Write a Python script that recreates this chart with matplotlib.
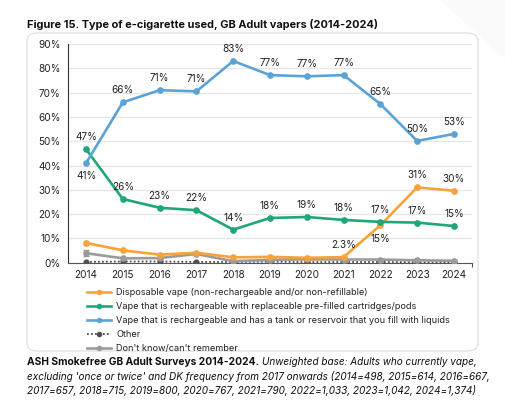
import matplotlib
matplotlib.use("Agg")
import matplotlib.pyplot as plt
from matplotlib.patches import FancyBboxPatch, Polygon
from matplotlib.lines import Line2D

plt.rcParams['font.family'] = ['Inter', 'DejaVu Sans']

years = [2014, 2015, 2016, 2017, 2018, 2019, 2020, 2021, 2022, 2023, 2024]
tank = [41, 66, 71, 70.5, 83, 77.2, 76.7, 77.2, 65.3, 50.1, 53]
tank_labels = ["41%", "66%", "71%", "71%", "83%", "77%", "77%", "77%", "65%", "50%", "53%"]
pods = [46.7, 26.2, 22.6, 21.6, 13.6, 18.4, 18.8, 17.6, 16.8, 16.5, 15.1]
pods_labels = ["47%", "26%", "23%", "22%", "14%", "18%", "19%", "18%", "17%", "17%", "15%"]
disposable = [8.1, 5.1, 3.3, 4.1, 2.2, 2.4, 2.0, 2.3, 15.4, 31, 29.6]
disposable_labels = ["", "", "", "", "", "", "", "2.3%", "15%", "31%", "30%"]
other = [0.3, 0.5, 0.5, 0.3, 0.3, 0.4, 0.3, 0.3, 0.3, 0.2, 0.2]
dontknow = [3.9, 1.8, 1.9, 3.6, 0.6, 1.2, 1.4, 1.3, 1.3, 1.0, 0.8]
dontknow_err = [1.2, 0, 0, 0, 0, 0, 0, 0, 0, 0, 0]
yticks = [0, 10, 20, 30, 40, 50, 60, 70, 80, 90]

series_names = [
    "Disposable vape (non-rechargeable and/or non-refillable)",
    "Vape that is rechargeable with replaceable pre-filled cartridges/pods",
    "Vape that is rechargeable and has a tank or reservoir that you fill with liquids",
    "Other",
    "Don't know/can't remember",
]
c_orange = "#F7A23A"
c_green = "#1FA67A"
c_blue = "#5BA3D5"
c_dark = "#505050"
c_grey = "#9B9B9B"

W, H = 506, 404
fig = plt.figure(figsize=(W / 100, H / 100), dpi=100)
fig.patch.set_facecolor("white")

def px(x, y):
    return (x / W, 1 - y / H)

# faint decoration top-right
deco = Polygon([px(440, 0), px(506, 0), px(506, 60)], closed=True,
               transform=fig.transFigure, facecolor="#fafafa", edgecolor="none", zorder=-2)
fig.patches.append(deco)

# rounded box
x0, y0 = px(27, 351)
x1, y1 = px(478, 33)
box = FancyBboxPatch((x0, y0), x1 - x0, y1 - y0,
                     boxstyle="round,pad=0,rounding_size=0.02",
                     transform=fig.transFigure, facecolor="white",
                     edgecolor="#dcdcdc", linewidth=0.8, zorder=-1)
fig.patches.append(box)

ax = fig.add_axes([67.7 / W, 1 - 262.7 / H, (472.3 - 67.7) / W, (262.7 - 44) / H])
ax.set_facecolor("none")
ax.set_xlim(2013.5, 2024.5)
ax.set_ylim(0, 90)
ax.set_yticks(yticks)
ax.set_yticklabels([f"{t}%" for t in yticks])
ax.set_xticks(years)
ax.set_xticklabels([str(y) for y in years])
ax.set_xticks([2024.5], minor=True)
ax.grid(axis="y", color="#e6e6e6", linewidth=0.9)
ax.set_axisbelow(True)
for s in ["top", "right"]:
    ax.spines[s].set_visible(False)
ax.spines["left"].set_color("#333333")
ax.spines["bottom"].set_color("#555555")
ax.spines["left"].set_linewidth(0.8)
ax.spines["bottom"].set_linewidth(0.8)
ax.tick_params(axis="both", length=0, labelsize=7.2, colors="#222222", pad=5)
ax.tick_params(axis="x", which="minor", length=3, width=0.8, color="#555555")

lw = 1.9
ms = 3.8
l_dk = ax.errorbar(years, dontknow, yerr=dontknow_err, color=c_grey, lw=lw, marker="o",
                   ms=ms, capsize=2, elinewidth=0.8, zorder=3)
l_ot, = ax.plot(years, other, color=c_dark, lw=1.3, ls=(0, (1, 1.2)), marker="o", ms=3.4, zorder=2.5)
l_or, = ax.plot(years, disposable, color=c_orange, lw=lw, marker="o", ms=ms, zorder=4)
l_gr, = ax.plot(years, pods, color=c_green, lw=lw, marker="o", ms=ms, zorder=4)
l_bl, = ax.plot(years, tank, color=c_blue, lw=lw, marker="o", ms=ms, zorder=4)

lab_kw = dict(textcoords="offset points", ha="center", va="center", fontsize=7.2, color="#222222", zorder=6)
off = 8.6
for i, (x, v, t) in enumerate(zip(years, tank, tank_labels)):
    dy = -9.5 if i == 0 else off
    ax.annotate(t, (x, v), xytext=(0, dy), **lab_kw)
for x, v, t in zip(years, pods, pods_labels):
    ax.annotate(t, (x, v), xytext=(0, off), **lab_kw)
for x, v, t in zip(years, disposable, disposable_labels):
    if not t:
        continue
    dy = -10 if t == "15%" else off
    ax.annotate(t, (x, v), xytext=(0, dy), **lab_kw)

# legend
handles = [
    Line2D([], [], color=c_orange, lw=lw, marker="o", ms=3),
    Line2D([], [], color=c_green, lw=lw, marker="o", ms=3),
    Line2D([], [], color=c_blue, lw=lw, marker="o", ms=3),
    Line2D([], [], color=c_dark, lw=1.3, ls=(0, (1, 1.2)), marker="o", ms=3),
    Line2D([], [], color=c_grey, lw=lw, marker="o", ms=3),
]
lx, ly = px(87, 288)
fig.legend(handles, series_names, loc="upper left", bbox_to_anchor=(lx, ly),
           frameon=False, fontsize=6.6, handlelength=2.6, handletextpad=0.6,
           labelspacing=0.55, borderpad=0, borderaxespad=0, labelcolor="#222222")

# title
tx, ty = px(27, 24)
fig.text(tx, ty, "Figure 15. Type of e-cigarette used, GB Adult vapers (2014-2024)",
         fontsize=7.9, fontweight="bold", ha="left", va="center", color="#111111")

# footer
fs = 7.2
fx, fy = px(27, 362)
t1 = fig.text(fx, fy, "ASH Smokefree GB Adult Surveys 2014-2024.", fontsize=7.4,
              fontweight="bold", ha="left", va="center", color="#111111")
fig.canvas.draw()
bb = t1.get_window_extent()
fig.text((bb.x1 + 3) / W, fy, "Unweighted base: Adults who currently vape,", fontsize=fs,
         style="italic", ha="left", va="center", color="#111111")
fig.text(fx, px(27, 376)[1],
         "excluding 'once or twice' and DK frequency from 2017 onwards (2014=498, 2015=614, 2016=667,",
         fontsize=fs, style="italic", ha="left", va="center", color="#111111")
fig.text(fx, px(27, 390)[1],
         "2017=657, 2018=715, 2019=800, 2020=767, 2021=790, 2022=1,033, 2023=1,042, 2024=1,374)",
         fontsize=fs, style="italic", ha="left", va="center", color="#111111")

fig.savefig("out.png", dpi=100, facecolor="white")
